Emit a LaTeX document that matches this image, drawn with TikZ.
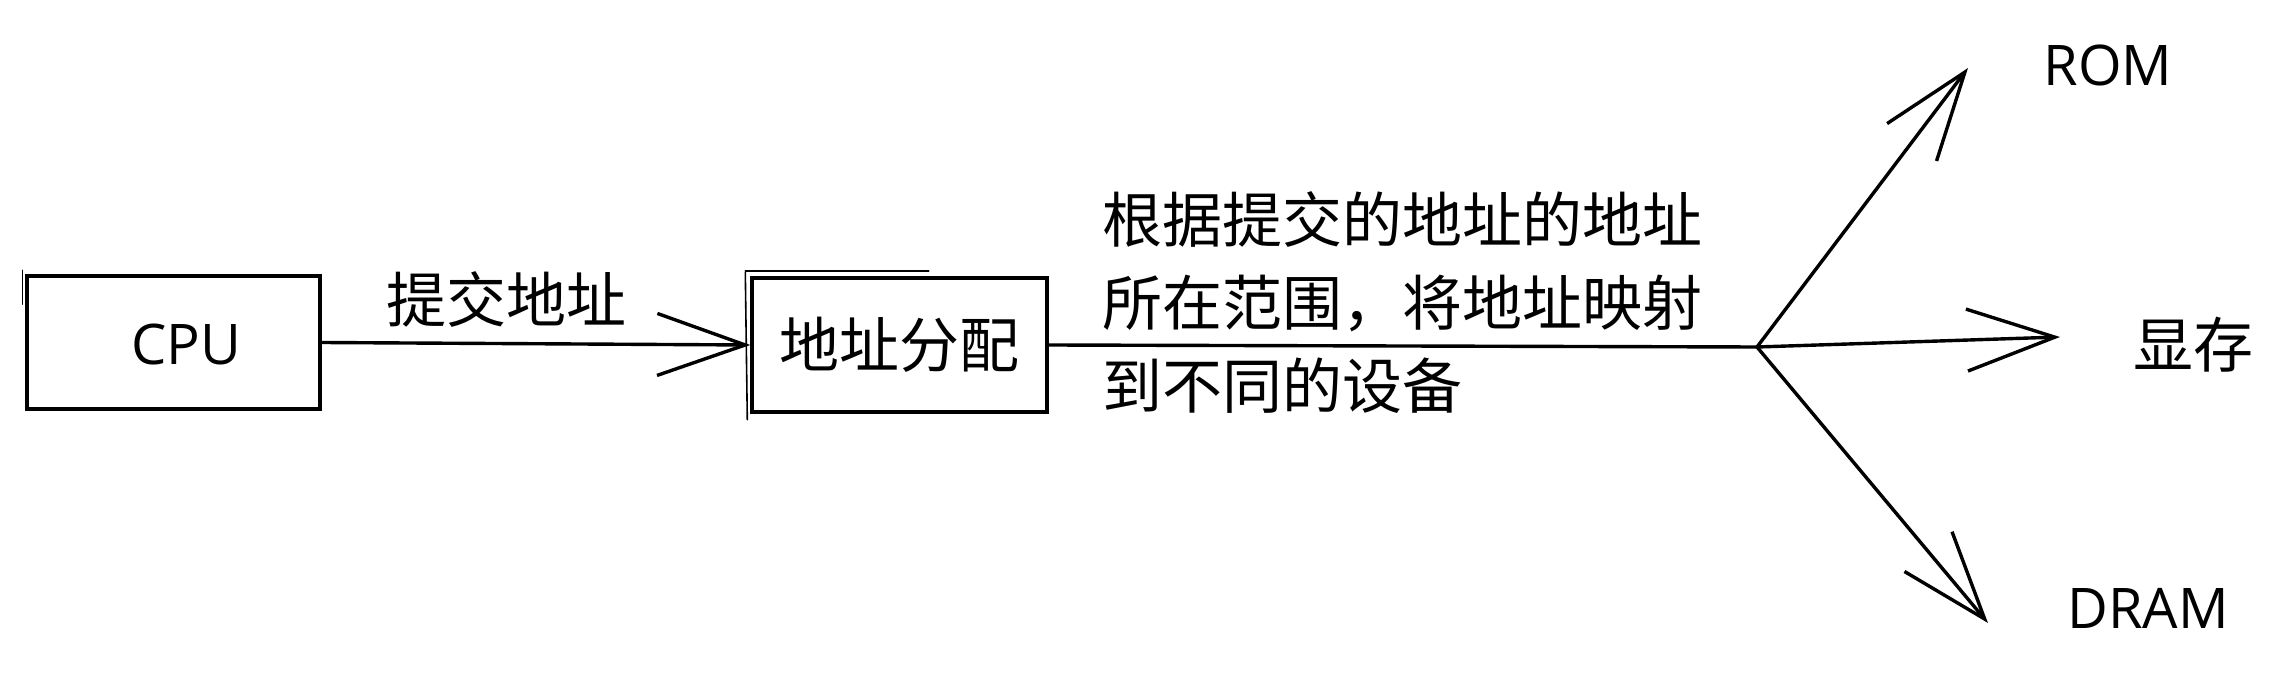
\documentclass[tikz,border=0pt]{standalone}
\usepackage{fontspec}
\setmainfont{Open Sans}
\newfontfamily\cjk{Noto Sans CJK SC}
\usetikzlibrary{arrows.meta}
\begin{document}
\begin{tikzpicture}[x=0.5pt,y=-0.5pt,
  box/.style={draw, line width=1.7pt, inner sep=0pt},
  cjklbl/.style={font=\cjk\fontsize{30pt}{41.5pt}\selectfont, inner sep=0pt},
  latlbl/.style={font=\fontsize{28pt}{34pt}\selectfont, inner sep=0pt},
  wire/.style={line width=1.7pt, line cap=round},
  sketch/.style={line width=0.8pt, line cap=round},
  conn/.style={wire, -{Straight Barb[length=44pt,width=31pt]}}]
\useasboundingbox (0,0) rectangle (2283,678);
% boxes
\node[box, minimum width=146.5pt, minimum height=66.5pt] (cpu) at (173.5,342.5) {};
\node[latlbl] (cputext) at (186,345) {CPU};
\node[box, cjklbl, minimum width=147.5pt, minimum height=67pt] (alloc) at (899.5,345) {地址分配};
% sketchy second strokes
\draw[sketch] ([shift={(-5,-4)}]alloc.north west) -- ([shift={(-3,6)}]alloc.south west);
\draw[sketch] ([shift={(-5,-5)}]alloc.north west) -- ([shift={(-120,-5)}]alloc.north east);
\draw[sketch] ([shift={(-3,-4)}]cpu.north west) -- ([shift={(-3,30)}]cpu.north west);
% labels
\node[cjklbl] (submit) at (506,299) {提交地址};
\node[cjklbl, anchor=west, align=left] (desc) at (1102,303) {根据提交的地址的地址\\所在范围，将地址映射\\到不同的设备};
\node[latlbl] (rom) at (2108,65) {ROM};
\node[cjklbl] (vram) at (2193,345) {显存};
\node[latlbl] (dram) at (2148,608) {DRAM};
% junction and arrow ends
\coordinate (J) at (1757,347);
\coordinate (tR) at (1968,68);
\coordinate (tX) at (2060,337);
\coordinate (tD) at (1988,623);
% connectors
\draw[conn] (cpu.east) -- (alloc.west);
\draw[wire] (alloc.east) -- (J);
\draw[conn] (J) -- (tR);
\draw[conn] (J) -- (tX);
\draw[conn] (J) -- (tD);
\end{tikzpicture}
\end{document}
